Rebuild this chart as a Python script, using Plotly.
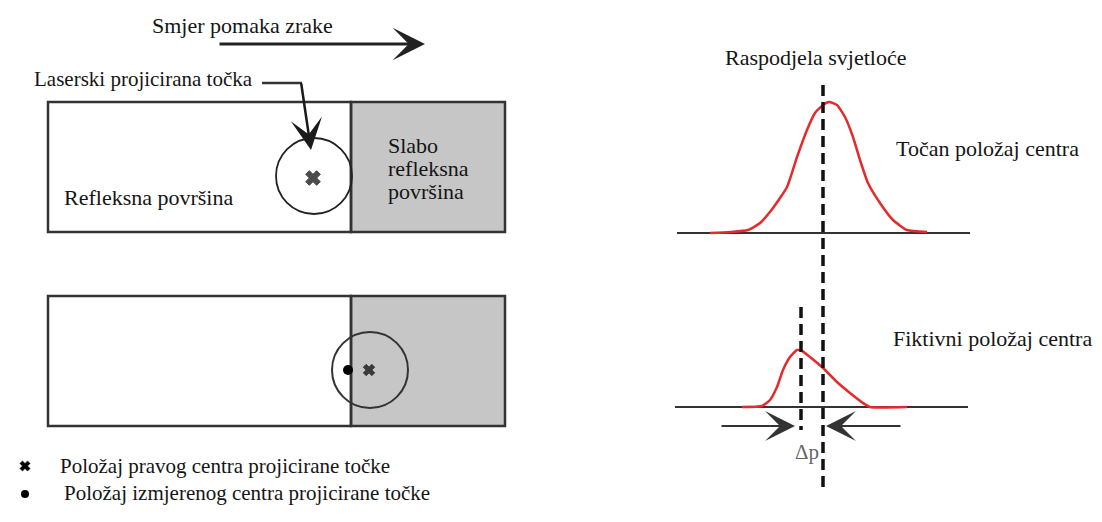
import plotly.graph_objects as go

W, H = 1102, 522
PAD = 8  # default page margin of the html body
FONT = "Liberation Serif"
INK = "#151515"
RED = "#e42a2a"

# light-intensity profiles (x in px, height above baseline in px)
true_profile_x = [710, 730, 748, 760, 773, 787, 797, 807, 815, 823, 829, 837, 845, 853, 860, 868, 880, 893, 907, 927]
true_profile_h = [0, 1, 3, 10, 25, 46, 76, 103, 120, 128, 131, 128, 116, 96, 73, 50, 30, 13, 3, 1]
fake_profile_x = [742, 762, 770, 777, 783, 790, 797, 802, 810, 823, 837, 850, 863, 870, 907]
fake_profile_h = [0, 1, 7, 20, 37, 50, 57, 56, 50, 39, 25, 14, 4, 0, 0]

# spot positions in the two surface sketches
true_centre_x = [313, 369]
true_centre_y = [178, 370]
measured_centre_x = [348]
measured_centre_y = [370]

surface_labels = ["Refleksna površina", "Slabo", "refleksna", "površina"]
legend_labels = ["Položaj pravog centra projicirane točke",
                 "Položaj izmjerenog centra projicirane točke"]
top_labels = ["Smjer pomaka zrake", "Laserski projicirana točka"]
profile_labels = ["Raspodjela svjetloće", "Točan položaj centra",
                  "Fiktivni položaj centra", "Δp"]

BASE_TOP, BASE_BOT = 233, 407

fig = go.Figure()

# red profiles
for px, ph, base in [(true_profile_x, true_profile_h, BASE_TOP),
                     (fake_profile_x, fake_profile_h, BASE_BOT)]:
    fig.add_trace(go.Scatter(
        x=px, y=[base - h for h in ph], mode="lines",
        line=dict(color=RED, width=2.5, shape="spline", smoothing=0.5),
        hoverinfo="skip"))

# centre markers
fig.add_trace(go.Scatter(
    x=true_centre_x, y=true_centre_y, mode="markers",
    marker=dict(symbol="x", size=[13, 10], color="#000",
                line=dict(width=1, color="#000")), hoverinfo="skip"))
fig.add_trace(go.Scatter(
    x=measured_centre_x, y=measured_centre_y, mode="markers",
    marker=dict(symbol="circle", size=10, color="#000"), hoverinfo="skip"))
# legend markers
fig.add_trace(go.Scatter(
    x=[25], y=[466], mode="markers",
    marker=dict(symbol="x", size=9, color="#000",
                line=dict(width=0.5, color="#000")), hoverinfo="skip"))
fig.add_trace(go.Scatter(
    x=[25], y=[494], mode="markers",
    marker=dict(symbol="circle", size=8, color="#000"), hoverinfo="skip"))

shapes = []
edge = dict(color="#333", width=2.5)
for y0, y1 in [(102, 232), (296, 426)]:
    shapes.append(dict(type="rect", x0=351, x1=505, y0=y0, y1=y1,
                       fillcolor="#c6c6c6", line=edge, layer="below"))
    shapes.append(dict(type="rect", x0=48, x1=351, y0=y0, y1=y1,
                       fillcolor="rgba(0,0,0,0)", line=edge, layer="below"))
# laser spots
shapes.append(dict(type="circle", x0=276, x1=352, y0=138, y1=214,
                   line=dict(color="#222", width=1.8)))
shapes.append(dict(type="circle", x0=332, x1=408, y0=332, y1=408,
                   line=dict(color="#333", width=2)))
# baselines
shapes.append(dict(type="line", x0=677, x1=970, y0=BASE_TOP, y1=BASE_TOP,
                   line=dict(color="#333", width=2), layer="below"))
shapes.append(dict(type="line", x0=675, x1=968, y0=BASE_BOT, y1=BASE_BOT,
                   line=dict(color="#333", width=2), layer="below"))
# dashed centre lines
dash = dict(color="#111", width=3.5, dash="11px,6px")
shapes.append(dict(type="line", x0=823, x1=823, y0=85, y1=492, line=dash))
shapes.append(dict(type="line", x0=801, x1=801, y0=307, y1=430, line=dash))
# laser pointer leader (horizontal part)
shapes.append(dict(type="line", x0=262, x1=302, y0=83, y1=83,
                   line=dict(color="#333", width=2.5)))

annotations = []


def arrow(x, y, ax, ay, width, size, color="#333"):
    annotations.append(dict(
        x=x, y=y, ax=ax, ay=ay, xref="x", yref="y", axref="x", ayref="y",
        showarrow=True, arrowhead=3, arrowwidth=width, arrowsize=size,
        arrowcolor=color, standoff=0, startstandoff=0, text=""))


arrow(425, 44, 218, 44, 3, 1.8, "#222")
arrow(311, 150, 301, 82, 2.5, 2.1, "#1a1a1a")
arrow(795, 426, 720, 426, 2, 2.5)
arrow(826, 426, 902, 426, 2, 2.5)


def label(text, x, y, size=22, color=INK, anchor="left"):
    annotations.append(dict(
        x=x, y=y, xref="x", yref="y", text=text, showarrow=False,
        xanchor=anchor, yanchor="middle",
        font=dict(family=FONT, size=size, color=color)))


label(top_labels[0], 150, 25)
label(top_labels[1], 32, 79, size=21)
label(surface_labels[0], 62, 197)
label(surface_labels[1], 386, 145)
label(surface_labels[2], 386, 168)
label(surface_labels[3], 386, 191)
label(legend_labels[0], 58, 466, size=21)
label(legend_labels[1], 62, 493, size=21)
label(profile_labels[0], 723, 57)
label(profile_labels[1], 894, 148)
label(profile_labels[2], 891, 338)
label(profile_labels[3], 807, 452, size=21, color="#666", anchor="center")

# the page body keeps an 8px margin, so the figure is shrunk by it and the
# axes are shifted so that one unit is one screen pixel
fig.update_layout(
    width=W - 2 * PAD, height=H - 2 * PAD,
    margin=dict(l=0, r=0, t=0, b=0),
    paper_bgcolor="white", plot_bgcolor="white",
    showlegend=False,
    shapes=shapes, annotations=annotations,
)
fig.update_xaxes(range=[PAD, W - PAD], visible=False, fixedrange=True)
fig.update_yaxes(range=[H - PAD, PAD], visible=False, fixedrange=True)

fig.write_html("out.html")
